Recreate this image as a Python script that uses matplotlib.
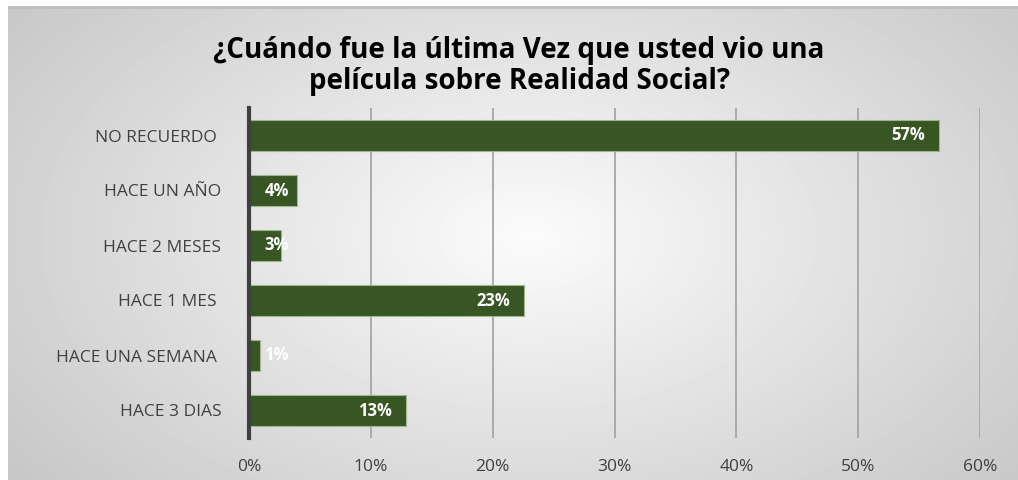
import matplotlib
matplotlib.use("Agg")
import matplotlib.pyplot as plt
import numpy as np

plt.rcParams['font.family'] = ['Open Sans', 'DejaVu Sans']

# survey answers, top to bottom as in the chart
categories = ['NO RECUERDO ', 'HACE UN AÑO', 'HACE 2 MESES', 'HACE 1 MES ',
              'HACE UNA SEMANA ', 'HACE 3 DIAS']
values = [56.6, 3.9, 2.6, 22.6, 0.9, 12.9]
labels = ['57%', '4%', '3%', '23%', '1%', '13%']
xticks = [0, 10, 20, 30, 40, 50, 60]

BAR = '#375623'
W, H = 1018, 480

fig = plt.figure(figsize=(W / 100, H / 100), dpi=100)
fig.patch.set_facecolor('white')

# gray radial gradient background of the chart frame
bg = fig.add_axes([8 / W, 0, 1 - 8 / W, 1 - 6 / H])
yy, xx = np.mgrid[0:474, 0:1010]
d = np.sqrt(((xx - 520) / 700.0) ** 2 + ((yy - 230) / 420.0) ** 2)
shade = np.clip(0.985 - 0.22 * d, 0.77, 0.985)
bg.imshow(shade, cmap='gray', vmin=0, vmax=1, aspect='auto', interpolation='bilinear')
bg.axhline(0, color='#bdbdbd', lw=2)
bg.set_axis_off()

ax = fig.add_axes([249 / W, 1 - 438 / H, (980 - 249) / W, (438 - 108) / H])
ax.patch.set_alpha(0)
y = np.arange(len(categories))
ax.barh(y, values, height=0.58, color=BAR, edgecolor='#9fb58a', linewidth=0.8, zorder=3)
ax.set_ylim(len(categories) - 0.5, -0.5)
ax.set_xlim(0, 60)

ax.set_xticks(xticks)
ax.set_xticklabels(['%d%%' % t for t in xticks])
ax.set_yticks(y)
ax.set_yticklabels(categories)
ax.tick_params(axis='x', length=0, pad=15, labelsize=12.5, labelcolor='#404040')
ax.tick_params(axis='y', length=0, pad=20, labelsize=12.5, labelcolor='#404040')
ax.grid(axis='x', color='#a6a6a6', lw=1.3, zorder=0)
for s in ['top', 'right', 'bottom']:
    ax.spines[s].set_visible(False)
ax.spines['left'].set_color('#404040')
ax.spines['left'].set_linewidth(3)
ax.spines['left'].set_zorder(4)

for yi, v, lab in zip(y, values, labels):
    if v < 5:
        ax.annotate(lab, (0, yi), xytext=(11, 0), textcoords='offset points',
                    ha='left', va='center', color='white', fontweight='bold',
                    fontsize=12, zorder=5)
    else:
        ax.annotate(lab, (v, yi), xytext=(-10, 0), textcoords='offset points',
                    ha='right', va='center', color='white', fontweight='bold',
                    fontsize=12, zorder=5)

fig.text(0.51, 1 - 66 / H, '¿Cuándo fue la última Vez que usted vio una\npelícula sobre Realidad Social?',
         ha='center', va='center', fontsize=20, fontweight='bold', color='black',
         linespacing=1.05)

fig.savefig('out.png', dpi=100)
